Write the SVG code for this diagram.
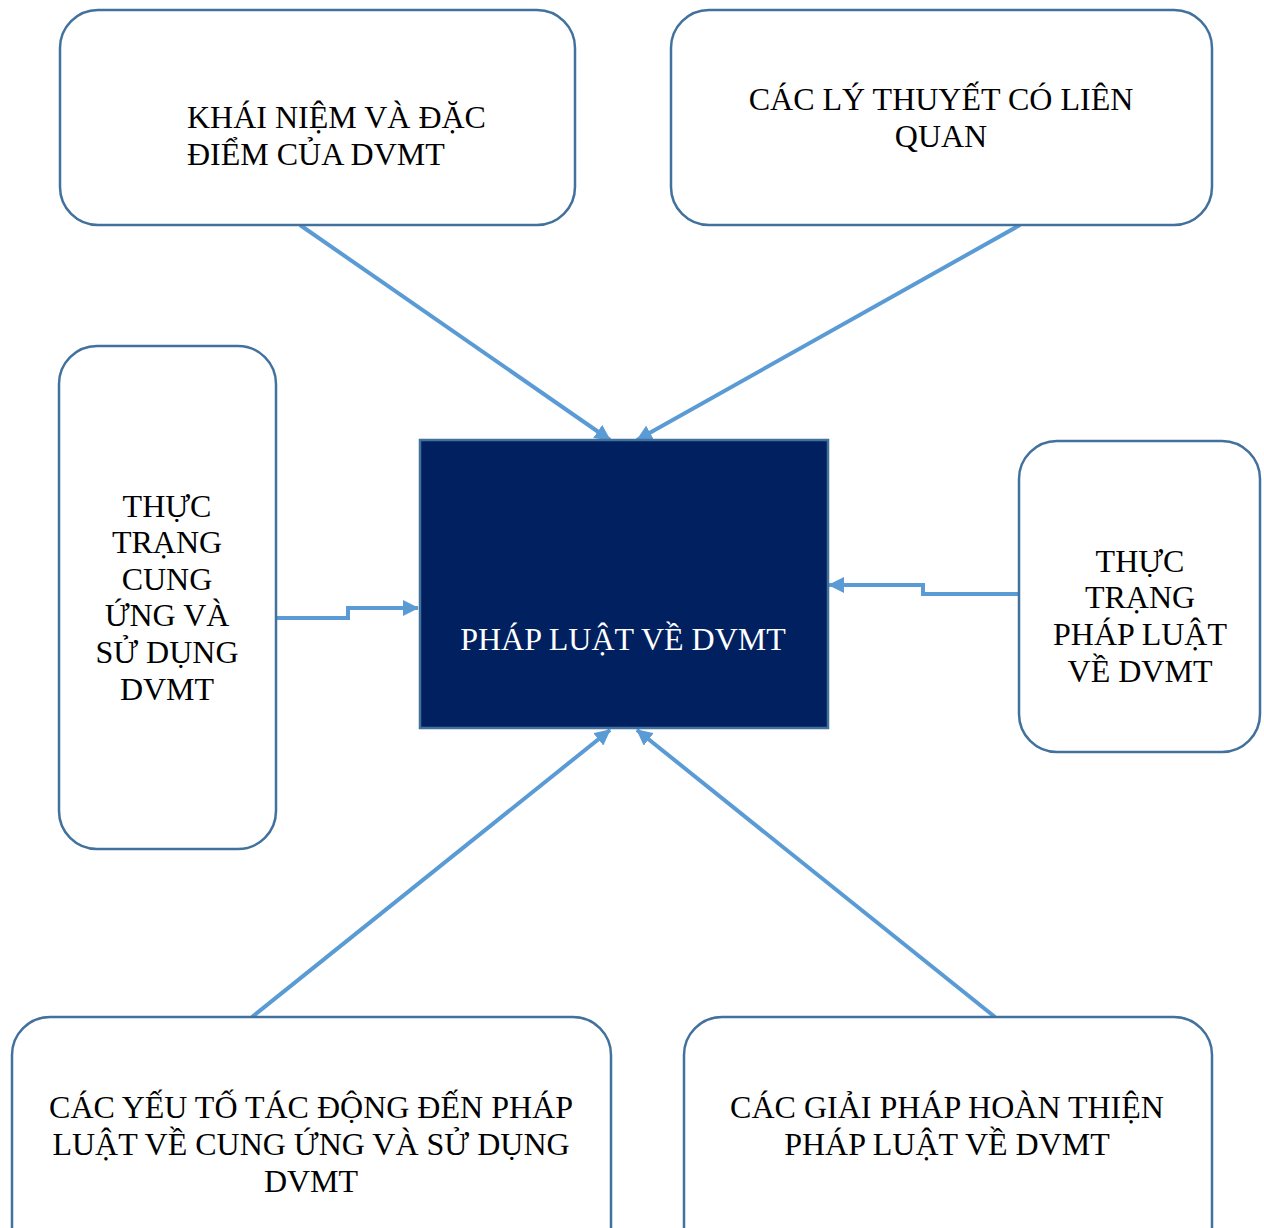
<svg xmlns="http://www.w3.org/2000/svg" width="1264" height="1228" viewBox="0 0 1264 1228">
<style>
.box{fill:#fff;stroke:#41719c;stroke-width:2.5}
.t{font-family:"Liberation Serif","Times New Roman",serif;font-size:32px;fill:#000;text-anchor:middle}
.c{fill:none;stroke:#5b9bd5;stroke-width:4}
</style>
<defs>
<marker id="ah" markerUnits="userSpaceOnUse" markerWidth="18" markerHeight="16" refX="15" refY="8" orient="auto">
<path d="M0,0 L16,8 L0,16 z" fill="#5b9bd5"/>
</marker>
</defs>
<rect width="1264" height="1228" fill="#fff"/>
<g id="connectors">
<line class="c" x1="300" y1="225" x2="610" y2="440" marker-end="url(#ah)"/>
<line class="c" x1="1020" y1="225" x2="637" y2="440" marker-end="url(#ah)"/>
<polyline class="c" points="276,618 348,618 348,608 418,608" marker-end="url(#ah)"/>
<polyline class="c" points="1019,594 923,594 923,585 829,585" marker-end="url(#ah)"/>
<line class="c" x1="252" y1="1017" x2="610" y2="730" marker-end="url(#ah)"/>
<line class="c" x1="995" y1="1017" x2="637" y2="730" marker-end="url(#ah)"/>
</g>
<g id="n1"><rect class="box" x="60" y="10" width="515" height="215" rx="38"/>
<text class="t" style="text-anchor:start" x="187" y="128">KHÁI NIỆM VÀ ĐẶC</text>
<text class="t" style="text-anchor:start" x="187" y="165">ĐIỂM CỦA DVMT</text></g>
<g id="n2"><rect class="box" x="671" y="10" width="541" height="215" rx="38"/>
<text class="t" x="941" y="110">CÁC LÝ THUYẾT CÓ LIÊN</text>
<text class="t" x="941" y="147">QUAN</text></g>
<g id="n3"><rect class="box" x="59" y="346" width="217" height="503" rx="38"/>
<text class="t" x="167" y="517">THỰC</text>
<text class="t" x="167" y="553">TRẠNG</text>
<text class="t" x="167" y="590">CUNG</text>
<text class="t" x="167" y="626">ỨNG VÀ</text>
<text class="t" x="167" y="663">SỬ DỤNG</text>
<text class="t" x="167" y="700">DVMT</text></g>
<g id="center"><rect x="420" y="440" width="408" height="288" fill="#002060" stroke="#41719c" stroke-width="2.5"/>
<text class="t" x="623" y="650" style="fill:#fff">PHÁP LUẬT VỀ DVMT</text></g>
<g id="n4"><rect class="box" x="1019" y="441" width="241" height="311" rx="38"/>
<text class="t" x="1140" y="572">THỰC</text>
<text class="t" x="1140" y="608">TRẠNG</text>
<text class="t" x="1140" y="645">PHÁP LUẬT</text>
<text class="t" x="1140" y="682">VỀ DVMT</text></g>
<g id="n5"><rect class="box" x="12" y="1017" width="599" height="260" rx="38"/>
<text class="t" x="311" y="1118">CÁC YẾU TỐ TÁC ĐỘNG ĐẾN PHÁP</text>
<text class="t" x="311" y="1155">LUẬT VỀ CUNG ỨNG VÀ SỬ DỤNG</text>
<text class="t" x="311" y="1192">DVMT</text></g>
<g id="n6"><rect class="box" x="684" y="1017" width="528" height="260" rx="38"/>
<text class="t" x="947" y="1118">CÁC GIẢI PHÁP HOÀN THIỆN</text>
<text class="t" x="947" y="1155">PHÁP LUẬT VỀ DVMT</text></g>
</svg>
